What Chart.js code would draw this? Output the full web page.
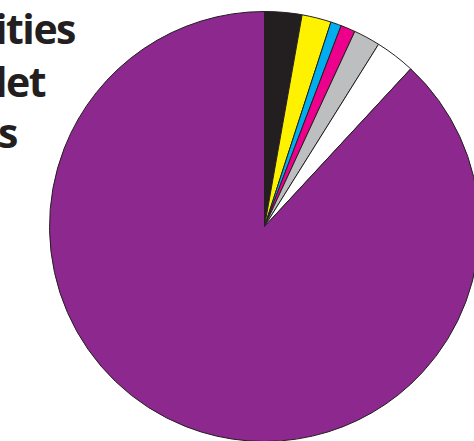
<!DOCTYPE html>
<html>
<head>
<meta charset="utf-8">
<script src="https://cdn.jsdelivr.net/npm/chart.js@4"></script>
<style>
  html, body { margin:0; padding:0; width:474px; height:441px; overflow:hidden; background:#fff; }
  #wrap { position:absolute; left:49px; top:11px; width:431px; height:431px; }
  .t { position:absolute; font-family:"Open Sans", sans-serif; font-weight:700; font-size:41px; color:#231f20; white-space:nowrap; line-height:1; letter-spacing:-1.5px; }
</style>
</head>
<body>
<div id="l1" class="t" style="right:399px; top:8px;">Commodities</div>
<div id="l2" class="t" style="right:429px; top:61px;">Outlet</div>
<div id="l3" class="t" style="right:457px; top:112px;">Totals</div>
<div id="wrap"><canvas id="c" width="431" height="431"></canvas></div>
<script>
const categories = ["Black", "Yellow", "Cyan", "Magenta", "Gray", "White", "Purple"];
const values = [2.8, 2.2, 0.8, 1.1, 2.0, 3.0, 88.1];
const colors = ["#231f20", "#fff200", "#00aeef", "#ec008c", "#bcbec0", "#ffffff", "#8c288e"];

new Chart(document.getElementById('c'), {
  type: 'pie',
  data: {
    labels: categories,
    datasets: [{
      data: values,
      backgroundColor: colors,
      borderColor: "#231f20",
      borderWidth: 1
    }]
  },
  options: {
    responsive: false,
    animation: false,
    layout: { padding: 0 },
    plugins: { legend: { display: false }, tooltip: { enabled: false }, title: { display: false } }
  }
});
</script>
</body>
</html>
